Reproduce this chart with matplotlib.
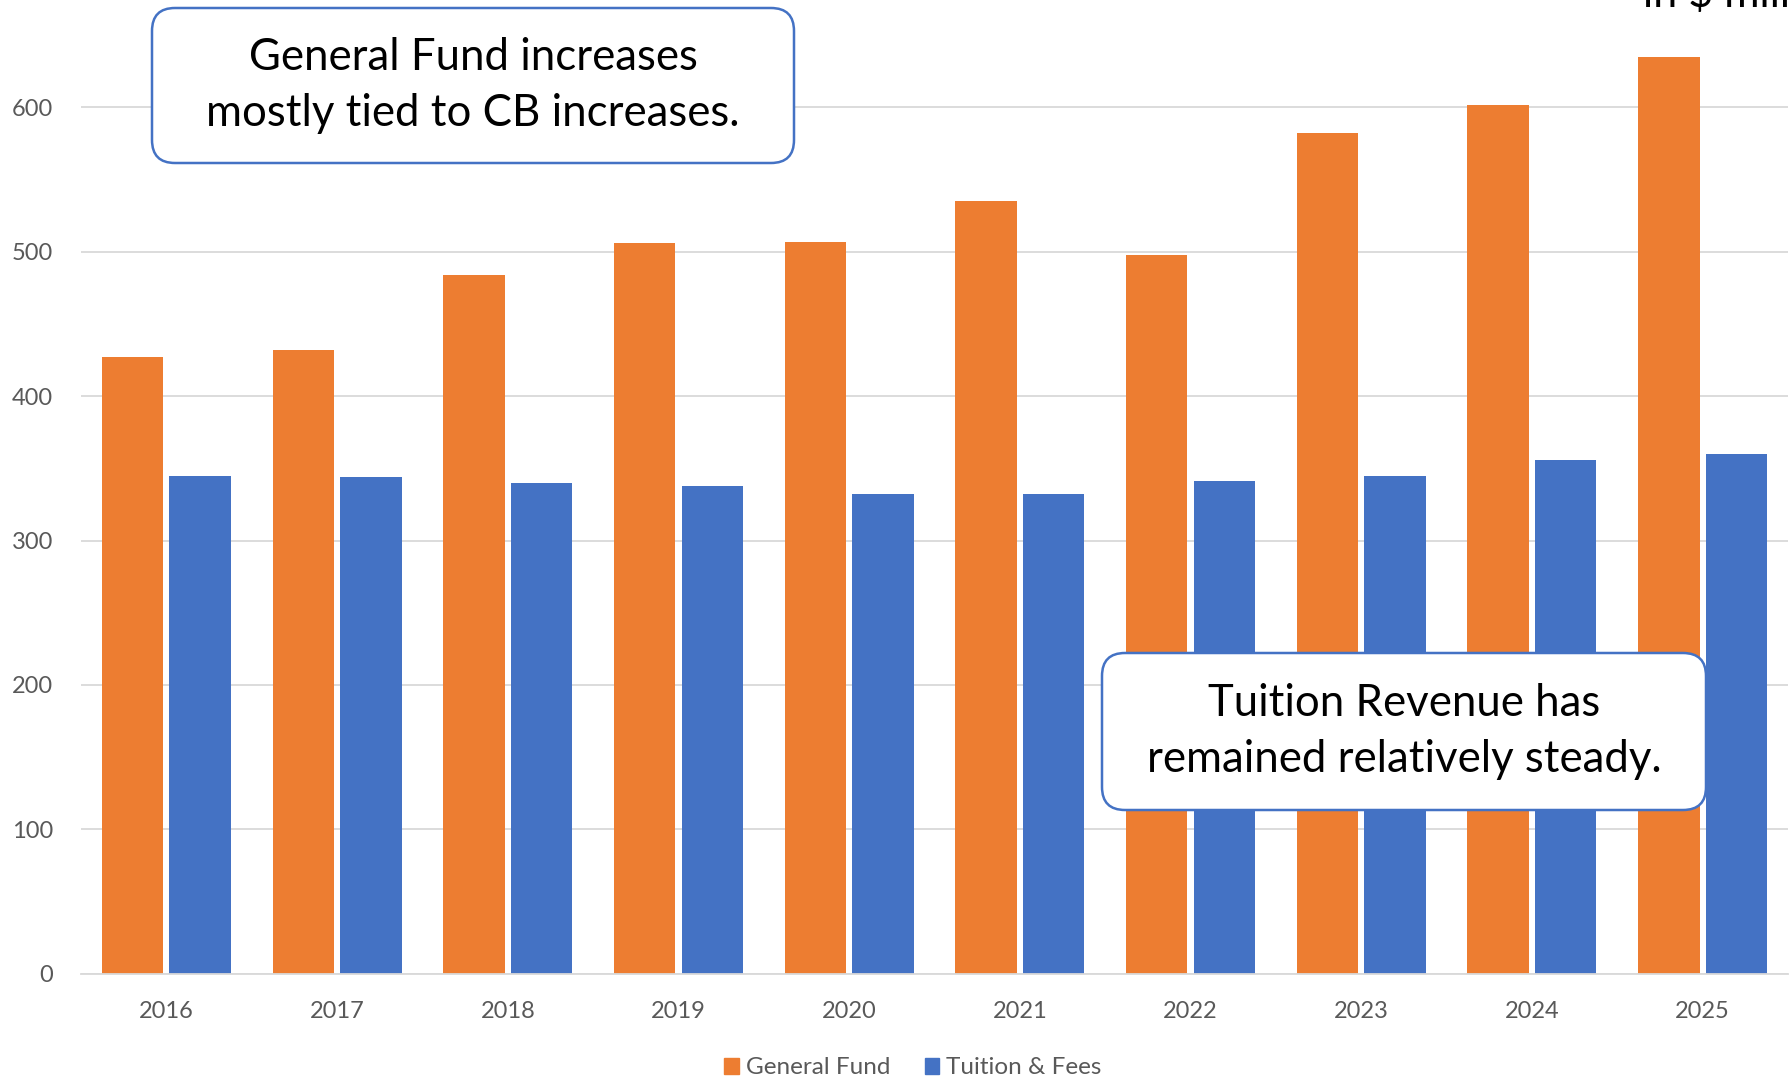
import matplotlib.pyplot as plt
import numpy as np
from matplotlib.patches import FancyBboxPatch, Patch

# Data (in $ millions)
years = ["2016", "2017", "2018", "2019", "2020", "2021", "2022", "2023", "2024", "2025"]
general_fund = [427, 432, 484, 506, 507, 535, 498, 582, 602, 635]
tuition_fees = [345, 344, 340, 338, 332, 332, 341, 345, 356, 360]

orange = "#ED7D31"
blue = "#4472C4"
grey_txt = "#595959"
font = "Lato"

fig = plt.figure(figsize=(17.92, 10.82), dpi=100)
ax = fig.add_axes([81 / 1792, 0.1001, (1788 - 81) / 1792, 0.934])

x = np.arange(len(years))
w = 0.36
ax.bar(x - 0.198, general_fund, w, color=orange, zorder=2)
ax.bar(x + 0.198, tuition_fees, w, color=blue, zorder=2)

ax.set_xlim(-0.5, len(years) - 0.5)
ax.set_ylim(0, 700)
ax.set_yticks(range(0, 601, 100))
ax.set_xticks(x)
ax.set_xticklabels(years)
ax.grid(axis="y", color="#D9D9D9", linewidth=1.3, zorder=0)
ax.axhline(700, color="#D9D9D9", linewidth=1.3, zorder=0)
for s in ["top", "right", "left"]:
    ax.spines[s].set_visible(False)
ax.spines["bottom"].set_color("#D9D9D9")
ax.spines["bottom"].set_linewidth(1.3)
ax.tick_params(axis="both", length=0, labelcolor=grey_txt, labelsize=17)
ax.tick_params(axis="x", pad=20)
ax.tick_params(axis="y", pad=20)
for lab in ax.get_xticklabels() + ax.get_yticklabels():
    lab.set_fontfamily(font)

# legend
handles = [Patch(color=orange, label="General Fund"), Patch(color=blue, label="Tuition & Fees")]
fig.legend(handles=handles, loc="center", bbox_to_anchor=(913 / 1792, 1 - 1068 / 1082),
           ncol=2, frameon=False, handlelength=0.6, handleheight=0.6, handletextpad=0.3,
           columnspacing=1.4, prop={"family": font, "size": 17.5}, labelcolor=grey_txt)

# callout boxes (inch coordinates)
tr = fig.dpi_scale_trans


def callout(x0, y0, x1, y1, lines):
    box = FancyBboxPatch((x0, y0), x1 - x0, y1 - y0, boxstyle="round,pad=0,rounding_size=0.23",
                         facecolor="white", edgecolor=blue, linewidth=1.8, transform=tr, zorder=5)
    fig.add_artist(box)
    fig.text((x0 + x1) / 2, (y0 + y1) / 2, lines, transform=tr, ha="center", va="center",
             fontsize=31.5, family=font, color="black", linespacing=1.45, zorder=6)


callout(1.52, 9.19, 7.94, 10.74, "General Fund increases\nmostly tied to CB increases.")
callout(11.02, 2.72, 17.06, 4.29, "Tuition Revenue has\nremained relatively steady.")

fig.text(16.43, 10.75, "in $ millions", transform=tr, ha="left", va="baseline",
         fontsize=31, family=font, color="black")

fig.savefig("out.png", dpi=100)
